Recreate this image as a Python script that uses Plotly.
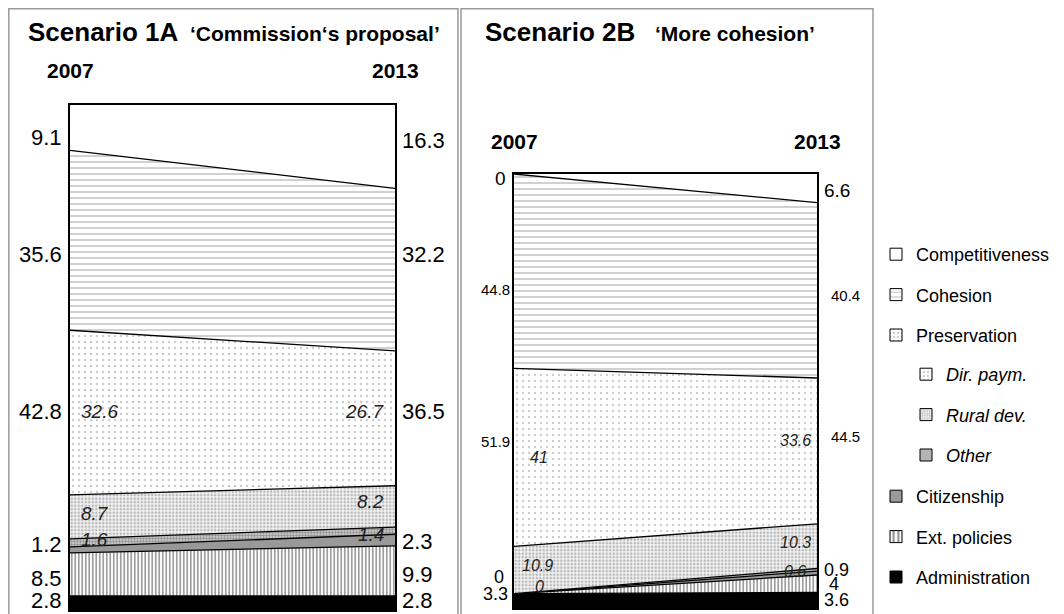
import plotly.graph_objects as go

FONT = "Arial, 'Liberation Sans', sans-serif"
OFF = 8  # page margin of the html body
W, H = 1064 - OFF, 614 - OFF

# ---------------- data ----------------
years = [2007, 2013]
categories = ["Administration", "Ext. policies", "Citizenship", "Other",
              "Rural dev.", "Dir. paym.", "Cohesion", "Competitiveness"]

# Scenario 1A 'Commission's proposal'  (2007, 2013)
s1a_admin = [2.8, 2.8]
s1a_ext = [8.5, 9.9]
s1a_cit = [1.2, 2.3]
s1a_other = [1.6, 1.4]
s1a_rural = [8.7, 8.2]
s1a_dir = [32.6, 26.7]
s1a_cohesion = [35.6, 32.2]
s1a_comp = [9.1, 16.3]
s1a_preservation = [42.8, 36.5]

# Scenario 2B 'More cohesion'  (2007, 2013)
s2b_admin = [3.3, 3.6]
s2b_ext = [0, 4]
s2b_cit = [0, 0.9]
s2b_other = [0, 0.6]
s2b_rural = [10.9, 10.3]
s2b_dir = [41, 33.6]
s2b_cohesion = [44.8, 40.4]
s2b_comp = [0, 6.6]
s2b_preservation = [51.9, 44.5]

legend_top = ["Competitiveness", "Cohesion", "Preservation"]
legend_sub = ["Dir. paym.", "Rural dev.", "Other"]
legend_bottom = ["Citizenship", "Ext. policies", "Administration"]

# ---------------- styles ----------------
style = {
    "Administration": dict(fill="#000000"),
    "Ext. policies": dict(fill="#ffffff", shape="|", fg="#2a2a2a", size=3.5, sol=0.45),
    "Citizenship": dict(fill="#999999"),
    "Other": dict(fill="#cfcfcf", shape=".", fg="#555555", size=3, sol=0.5),
    "Rural dev.": dict(fill="#f2f2f2", shape=".", fg="#7a7a7a", size=3.5, sol=0.4),
    "Dir. paym.": dict(fill="#ffffff", shape=".", fg="#999999", size=6, sol=0.12),
    "Preservation": dict(fill="#ffffff", shape=".", fg="#999999", size=5, sol=0.15),
    "Cohesion": dict(fill="#ffffff", shape="-", fg="#999999", size=6, sol=0.3),
    "Competitiveness": dict(fill="#ffffff"),
}
legend_pattern_size = {"Ext. policies": 6, "Other": 2.5, "Rural dev.": 3, "Dir. paym.": 5,
                       "Preservation": 5, "Cohesion": 6}


def px_x(p):
    return (p - OFF) / W


def px_y(p):
    return 1 - (p - OFF) / H


panels = [
    dict(key="s1a", xa="x", ya="y",
         vals=[s1a_admin, s1a_ext, s1a_cit, s1a_other, s1a_rural, s1a_dir, s1a_cohesion, s1a_comp],
         pres=s1a_preservation),
    dict(key="s2b", xa="x2", ya="y2",
         vals=[s2b_admin, s2b_ext, s2b_cit, s2b_other, s2b_rural, s2b_dir, s2b_cohesion, s2b_comp],
         pres=s2b_preservation),
]

fig = go.Figure()

# stacked areas
for p in panels:
    for cat, v in zip(categories, p["vals"]):
        st = style[cat]
        kw = dict(x=years, y=v, mode="lines", stackgroup=p["key"],
                  line=dict(color="black", width=0 if cat == "Competitiveness" else 1.3),
                  fillcolor=st["fill"], showlegend=False, hoverinfo="skip",
                  name=cat, xaxis=p["xa"], yaxis=p["ya"])
        if "shape" in st:
            kw["fillpattern"] = dict(shape=st["shape"], fgcolor=st["fg"], bgcolor=st["fill"],
                                     size=st["size"], solidity=st["sol"])
        fig.add_trace(go.Scatter(**kw))

# legend-only entries (square keys)
for lg, names, italic in [("legend", legend_top, False), ("legend2", legend_sub, True),
                          ("legend3", legend_bottom, False)]:
    for nm in names:
        st = style[nm]
        marker = dict(color=st["fill"], line=dict(color="black", width=1))
        if "shape" in st:
            marker["pattern"] = dict(shape=st["shape"], fgcolor=st["fg"], bgcolor=st["fill"],
                                     size=legend_pattern_size[nm], solidity=max(st["sol"], 0.25))
        fig.add_trace(go.Bar(x=[None], y=[None], name=f"<i>{nm}</i>" if italic else nm,
                             marker=marker, legend=lg, legendgroup=nm, showlegend=True,
                             hoverinfo="skip", xaxis="x", yaxis="y"))


# ---------------- value labels ----------------
def bounds(vals):
    cum = [0.0, 0.0]
    out = {}
    for cat, v in zip(categories, vals):
        lo = cum[:]
        hi = [cum[i] + v[i] for i in range(2)]
        out[cat] = (lo, hi)
        cum = hi
    return out


def mid(b, cat, i):
    lo, hi = b[cat]
    return (lo[i] + hi[i]) / 2


def avg_mid(b, cat):
    return (mid(b, cat, 0) + mid(b, cat, 1)) / 2


def fmt(v):
    return f"{v:g}"


annotations = []


def add_label(p, text, cat, i, mode, side, size, italic=False, yshift=0, xshift=0):
    b = bounds(p["vals"])
    y = avg_mid(b, cat) if mode == "avg" else mid(b, cat, i)
    if side == "out":
        xanchor = "right" if i == 0 else "left"
    else:
        xanchor = "left" if i == 0 else "right"
    annotations.append(dict(
        x=years[i], y=y, xref=p["xa"], yref=p["ya"], text=f"<i>{text}</i>" if italic else text,
        showarrow=False, xanchor=xanchor, yanchor="middle", xshift=xshift, yshift=yshift,
        font=dict(family=FONT, size=size, color="#000000" if side == "out" else "#222222")))


P1, P2 = panels
# Scenario 1A
for i in range(2):
    sx_out = -6 if i == 0 else 5
    sx_in = 9 if i == 0 else -9
    add_label(P1, fmt(s1a_comp[i]), "Competitiveness", i, "avg", "out", 22, yshift=[0, -3][i], xshift=sx_out)
    add_label(P1, fmt(s1a_cohesion[i]), "Cohesion", i, "avg", "out", 22, xshift=sx_out)
    add_label(P1, fmt(s1a_preservation[i]), "Dir. paym.", i, "avg", "out", 22, yshift=4, xshift=sx_out)
    add_label(P1, fmt(s1a_cit[i]), "Citizenship", i, "year", "out", 22, yshift=[5, -1][i], xshift=sx_out)
    add_label(P1, fmt(s1a_ext[i]), "Ext. policies", i, "year", "out", 22, yshift=-4, xshift=sx_out)
    add_label(P1, fmt(s1a_admin[i]), "Administration", i, "year", "out", 22, yshift=2, xshift=sx_out)
    add_label(P1, fmt(s1a_dir[i]), "Dir. paym.", i, "avg", "in", 19, True, yshift=4, xshift=sx_in)
    add_label(P1, fmt(s1a_rural[i]), "Rural dev.", i, "year", "in", 19, True, yshift=[3, 5][i], xshift=sx_in)
    add_label(P1, fmt(s1a_other[i]), "Other", i, "year", "in", 19, True, yshift=[3, -4][i], xshift=sx_in)

# Scenario 2B
for i in range(2):
    sx_out = -4 if i == 0 else 5
    add_label(P2, fmt(s2b_comp[i]), "Competitiveness", i, "year", "out", 19, yshift=[-4, -2][i], xshift=[-6, 5][i])
    add_label(P2, fmt(s2b_cohesion[i]), "Cohesion", i, "avg", "out", 15, yshift=[-9, -15][i], xshift=[-2, 12][i])
    add_label(P2, fmt(s2b_preservation[i]), "Dir. paym.", i, "avg", "out", 15, yshift=[13, 18][i], xshift=[-2, 12][i])
    add_label(P2, fmt(s2b_admin[i]), "Administration", i, "year", "out", 18, yshift=[7, 0][i], xshift=sx_out)
    add_label(P2, fmt(s2b_ext[i]), "Ext. policies", i, "year", "out", 18, yshift=[17, 0][i], xshift=[-8, 10][i])
    add_label(P2, fmt(s2b_dir[i]), "Dir. paym.", i, "year", "in", 16, True, yshift=[0, 10][i], xshift=[14, -4][i])
    add_label(P2, fmt(s2b_rural[i]), "Rural dev.", i, "year", "in", 16, True, yshift=[5, 4][i], xshift=[6, -4][i])
    add_label(P2, fmt(s2b_other[i]), "Other", i, "year", "in", 16, True, yshift=[7, -2][i], xshift=[19, -9][i])
add_label(P2, fmt(s2b_cit[1]), "Citizenship", 1, "year", "out", 18, yshift=3, xshift=5)

# years
for p, ypx in [(P1, 71), (P2, 141)]:
    for i in range(2):
        annotations.append(dict(x=years[i], y=px_y(ypx), xref=p["xa"], yref="paper", text=f"<b>{years[i]}</b>",
                                showarrow=False, xanchor="center", yanchor="middle",
                                font=dict(family=FONT, size=21, color="black")))

# titles
for txt, xpx, size in [("<b>Scenario 1A</b>", 26, 26), ("<b>‘Commission‘s proposal’</b>", 188, 21),
                       ("<b>Scenario 2B</b>", 483, 26), ("<b>‘More cohesion’</b>", 653, 21)]:
    annotations.append(dict(x=px_x(xpx), y=px_y(42), xref="paper", yref="paper", text=txt,
                            showarrow=False, xanchor="left", yanchor="bottom", yshift=-7 if size == 26 else -5,
                            font=dict(family=FONT, size=size, color="black")))

# panel frames
shapes = [
    dict(type="rect", xref="paper", yref="paper", x0=px_x(8.8), x1=px_x(458), y0=-0.1, y1=px_y(8.8),
         line=dict(color="#9a9a9a", width=1.5), fillcolor="rgba(0,0,0,0)", layer="below"),
    dict(type="rect", xref="paper", yref="paper", x0=px_x(461), x1=px_x(873), y0=-0.1, y1=px_y(8.8),
         line=dict(color="#9a9a9a", width=1.5), fillcolor="rgba(0,0,0,0)", layer="below"),
]

axis_common = dict(showgrid=False, zeroline=False, showticklabels=False, ticks="",
                   showline=True, mirror=True, linecolor="black", linewidth=1.5, fixedrange=True)

legend_common = dict(xanchor="left", yanchor="top", bgcolor="rgba(0,0,0,0)", borderwidth=0,
                     tracegroupgap=14, font=dict(family=FONT, size=18, color="black"))

fig.update_layout(
    width=W, height=H, margin=dict(l=0, r=0, t=0, b=0),
    paper_bgcolor="white", plot_bgcolor="white",
    xaxis=dict(domain=[px_x(70), px_x(395)], range=[2007, 2013], anchor="y", type="linear", **axis_common),
    yaxis=dict(domain=[px_y(610), px_y(105)], range=[0, 100], anchor="x", **axis_common),
    xaxis2=dict(domain=[px_x(514), px_x(817)], range=[2007, 2013], anchor="y2", type="linear", **axis_common),
    yaxis2=dict(domain=[px_y(608), px_y(174)], range=[0, 100], anchor="x2", **axis_common),
    legend=dict(x=px_x(876), y=px_y(236), **legend_common),
    legend2=dict(x=px_x(906), y=px_y(356), **legend_common),
    legend3=dict(x=px_x(876), y=px_y(478), **legend_common),
    annotations=annotations,
    shapes=shapes,
    showlegend=True,
    font=dict(family=FONT),
)

fig.write_html("out.html")
